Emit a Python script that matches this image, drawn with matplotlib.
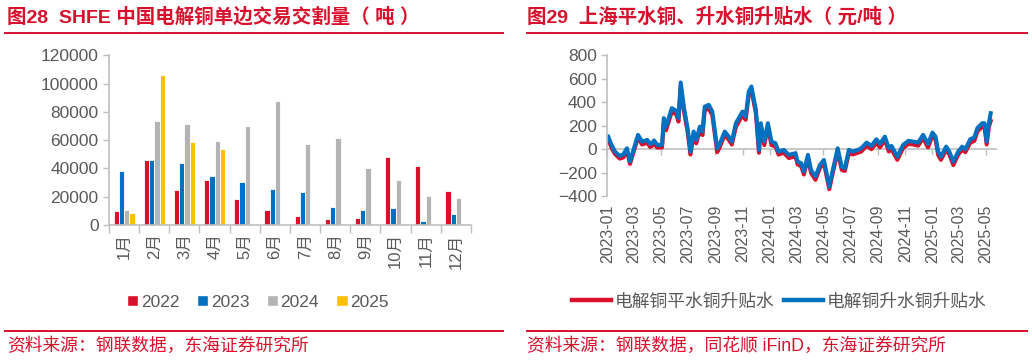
"""Two-panel copper chart: SHFE delivery volume bars and Shanghai copper premium lines."""

import matplotlib
matplotlib.use("Agg")
import matplotlib.pyplot as plt
import pandas as pd
from matplotlib.lines import Line2D
from matplotlib.patches import Patch

plt.rcParams["font.family"] = ["Liberation Sans", "Noto Sans CJK SC", "DejaVu Sans"]

RED = "#D8102C"
BLUE = "#0070C0"
GRAY_BAR = "#B4B4B4"
YELLOW = "#FFC000"
TEXT_GRAY = "#595959"
AXIS_GRAY = "#BFBFBF"

# ---- left panel data: monthly delivery volume (tonnes) ----
months = ["1月", "2月", "3月", "4月", "5月", "6月", "7月", "8月", "9月", "10月", "11月", "12月"]
years = ["2022", "2023", "2024", "2025"]
vol_2022 = [10000, 45700, 24700, 32000, 18400, 10800, 6600, 4200, 4900, 48000, 41500, 23800]
vol_2023 = [38400, 45900, 43600, 34400, 30400, 25400, 23100, 12700, 10600, 12200, 2800, 8000]
vol_2024 = [10400, 73300, 71400, 59600, 70200, 87600, 57200, 61500, 40300, 31600, 20700, 19300]
vol_2025 = [8200, 106000, 58900, 53700, None, None, None, None, None, None, None, None]

# ---- right panel data: copper premium / discount (yuan/tonne) ----
dates = [
    "2023-01-03", "2023-01-10", "2023-01-18", "2023-01-29", "2023-02-06", "2023-02-14",
    "2023-02-21", "2023-03-02", "2023-03-11", "2023-03-20", "2023-04-01", "2023-04-07",
    "2023-04-12", "2023-04-16", "2023-04-23", "2023-05-04", "2023-05-08", "2023-05-13",
    "2023-05-26", "2023-06-05", "2023-06-10", "2023-06-15", "2023-06-22", "2023-07-01",
    "2023-07-07", "2023-07-14", "2023-07-20", "2023-07-28", "2023-08-03", "2023-08-08",
    "2023-08-17", "2023-08-25", "2023-09-05", "2023-09-10", "2023-09-22", "2023-10-01",
    "2023-10-08", "2023-10-17", "2023-11-01", "2023-11-08", "2023-11-15", "2023-11-21",
    "2023-12-01", "2023-12-08", "2023-12-12", "2023-12-20", "2023-12-28", "2024-01-05",
    "2024-01-14", "2024-01-21", "2024-02-02", "2024-02-13", "2024-02-28", "2024-03-04",
    "2024-03-12", "2024-03-18", "2024-03-27", "2024-04-03", "2024-04-13", "2024-04-23",
    "2024-05-02", "2024-05-14", "2024-05-22", "2024-06-02", "2024-06-11", "2024-06-18",
    "2024-06-27", "2024-07-06", "2024-07-17", "2024-07-25", "2024-08-06", "2024-08-17",
    "2024-08-28", "2024-09-05", "2024-09-16", "2024-09-25", "2024-10-01", "2024-10-14",
    "2024-10-27", "2024-11-08", "2024-11-19", "2024-11-30", "2024-12-11", "2024-12-22",
    "2025-01-01", "2025-01-08", "2025-01-14", "2025-01-20", "2025-02-01", "2025-02-08",
    "2025-02-17", "2025-02-28", "2025-03-09", "2025-03-16", "2025-03-27", "2025-04-05",
    "2025-04-12", "2025-04-23", "2025-04-28", "2025-05-03", "2025-05-08", "2025-05-12",
]
premium_copper = [
    107, 40, -20, -57, -45, 8, -105, 10, 122, 65, 79, 45,
    52, 75, 37, 37, 264, 192, 349, 326, 264, 567, 362, 164,
    -20, 150, 79, 192, 150, 362, 377, 320, 8, 37, 150, 107,
    65, 221, 320, 277, 490, 533, 334, -6, 221, 65, 221, 65,
    51, -20, -6, -48, -34, -105, -119, -190, -48, -176, -233, -133,
    -91, -318, -176, 8, -148, -162, -6, -20, -6, 8, 56, 28,
    85, 45, 107, 8, 28, -63, 37, 71, 65, 56, 122, 45,
    141, 107, -20, -63, 22, -20, -105, -20, 22, 0, 85, 99,
    179, 221, 221, 65, 221, 306,
]
standard_copper = [
    85, 15, -40, -80, -70, -15, -125, -10, 100, 40, 55, 20,
    30, 50, 15, 15, 230, 160, 320, 295, 235, 540, 330, 135,
    -45, 120, 50, 160, 120, 330, 345, 290, -25, 10, 125, 80,
    40, 190, 290, 250, 460, 505, 305, -30, 190, 35, 190, 35,
    25, -45, -30, -75, -60, -130, -145, -215, -75, -200, -260, -160,
    -115, -340, -200, -20, -175, -185, -35, -45, -30, -20, 30, 0,
    55, 15, 80, -20, 0, -90, 10, 45, 40, 30, 95, 15,
    115, 80, -50, -90, -5, -45, -135, -45, -5, -25, 55, 70,
    150, 190, 195, 40, 190, 240,
]
date_ticks = [
    "2023-01", "2023-03", "2023-05", "2023-07", "2023-09", "2023-11",
    "2024-01", "2024-03", "2024-05", "2024-07", "2024-09", "2024-11",
    "2025-01", "2025-03", "2025-05",
]
line_labels = ["电解铜平水铜升贴水", "电解铜升水铜升贴水"]


def style_axis(axis):
    for side in ("top", "right"):
        axis.spines[side].set_visible(False)
    for side in ("left", "bottom"):
        axis.spines[side].set_color(AXIS_GRAY)
        axis.spines[side].set_linewidth(1.2)
    axis.tick_params(colors=AXIS_GRAY, labelcolor=TEXT_GRAY, labelsize=12.5, width=1, length=4)


figure = plt.figure(figsize=(10.32, 3.6), dpi=100)

# ---------------- left panel ----------------
left = figure.add_axes([0.1056, 0.375, 0.3508, 0.471])
style_axis(left)
series = [vol_2022, vol_2023, vol_2024, vol_2025]
colors = [RED, BLUE, GRAY_BAR, YELLOW]
bar_width = 0.175
for index, (values, color) in enumerate(zip(series, colors)):
    offset = (index - 1.5) * bar_width
    xs = [m + offset for m, v in enumerate(values) if v is not None]
    heights = [v for v in values if v is not None]
    left.bar(xs, heights, width=bar_width, color=color, edgecolor="white", linewidth=0.6)

left.set_xlim(-0.5, len(months) - 0.5)
left.set_ylim(0, 120000)
left.set_yticks(range(0, 120001, 20000))
left.set_xticks([m - 0.5 for m in range(len(months) + 1)], labels=[""] * (len(months) + 1))
left.tick_params(axis="x", length=6)
left.set_xticks(range(len(months)), labels=months, minor=True)
left.tick_params(axis="x", which="minor", length=0, rotation=90, labelsize=12, pad=6,
                 labelcolor=TEXT_GRAY)

handles = [Patch(facecolor=c, edgecolor="white") for c in colors]
figure.legend(handles, years, loc="center", bbox_to_anchor=(0.25, 0.161), ncol=4, frameon=False,
              fontsize=12.5, labelcolor=TEXT_GRAY, handlelength=0.65, handleheight=0.65,
              handletextpad=0.15, columnspacing=1.0)

# ---------------- right panel ----------------
right = figure.add_axes([0.5885, 0.4547, 0.3775, 0.3923])
style_axis(right)
date_index = pd.to_datetime(dates)
right.plot(date_index, standard_copper, color=RED, linewidth=2.9, solid_joinstyle="round")
right.plot(date_index, premium_copper, color=BLUE, linewidth=2.9, solid_joinstyle="round")
right.set_ylim(-400, 800)
right.set_yticks(range(-400, 801, 200))
right.set_xlim(pd.Timestamp("2023-01-01"), pd.Timestamp("2025-05-26"))
tick_dates = pd.to_datetime(date_ticks)
right.spines["bottom"].set_visible(False)
right.set_xticks(tick_dates, labels=date_ticks)
right.tick_params(axis="x", length=0, rotation=90, labelsize=11.5, pad=6)
right.axhline(0, color=AXIS_GRAY, linewidth=1.2, zorder=0)
zero_axis = right.secondary_xaxis(1 / 3)
zero_axis.spines["bottom"].set_visible(False)
zero_axis.set_xticks(tick_dates, labels=[""] * len(tick_dates))
zero_axis.tick_params(axis="x", colors=AXIS_GRAY, length=4, width=1)

line_handles = [Line2D([], [], color=RED, linewidth=3.2), Line2D([], [], color=BLUE, linewidth=3.2)]
figure.legend(line_handles, line_labels, loc="center", bbox_to_anchor=(0.755, 0.161), ncol=2,
              frameon=False, fontsize=12.8, labelcolor=TEXT_GRAY, handlelength=2.2,
              handletextpad=0.2, columnspacing=0.5)

# ---------------- titles, rules and sources ----------------
title_style = dict(color=RED, fontsize=14, fontweight="bold", va="center", ha="left")
figure.text(7 / 1032, 1 - 17 / 360, "图28  SHFE 中国电解铜单边交易交割量（ 吨 ）", **title_style)
figure.text(527 / 1032, 1 - 17 / 360, "图29  上海平水铜、升水铜升贴水（ 元/吨 ）", **title_style)

for x0, x1 in ((5, 503), (527, 1027)):
    for y in (32.5, 331):
        figure.add_artist(Line2D([x0 / 1032, x1 / 1032], [1 - y / 360, 1 - y / 360],
                                 color=RED, linewidth=1.4))

source_style = dict(color=RED, fontsize=12.8, va="center", ha="left")
figure.text(7 / 1032, 1 - 346 / 360, "资料来源：钢联数据，东海证券研究所", **source_style)
figure.text(527 / 1032, 1 - 346 / 360, "资料来源：钢联数据，同花顺 iFinD，东海证券研究所", **source_style)

figure.savefig("out.png", dpi=100)
plt.close(figure)
